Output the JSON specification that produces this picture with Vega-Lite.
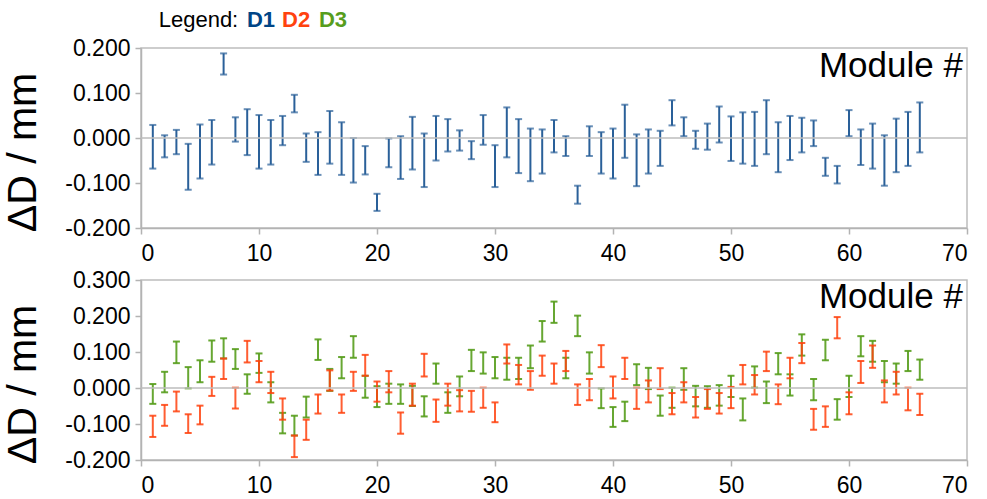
{
  "$schema": "https://vega.github.io/schema/vega-lite/v6.json",
  "background": "white",
  "padding": {"left": 2, "top": 8, "right": 0, "bottom": 0},
  "spacing": 52,
  "bounds": "flush",
  "config": {
    "font": "Liberation Sans",
    "view": {"stroke": "#bdbdbd", "strokeWidth": 1.5},
    "axis": {
      "labelFont": "Liberation Sans",
      "labelFontSize": 23,
      "labelColor": "#000000",
      "labelOverlap": false,
      "tickColor": "#b3b3b3",
      "tickSize": 6,
      "tickWidth": 1.5,
      "domainColor": "#b3b3b3",
      "domainWidth": 1.5,
      "grid": false,
      "titleFont": "Liberation Sans",
      "titleFontSize": 41,
      "titleFontWeight": "normal",
      "titleColor": "#000000"
    },
    "axisY": {"titlePadding": 20, "labelPadding": 5, "titleY": 104},
    "axisX": {"labelPadding": 8}
  },
  "datasets": {
    "dev": [
      {"m":1,"s":"D1","hi":0.029,"lo":-0.068},{"m":2,"s":"D1","hi":0.006,"lo":-0.043},
      {"m":3,"s":"D1","hi":0.018,"lo":-0.036},{"m":4,"s":"D1","hi":-0.013,"lo":-0.115},
      {"m":5,"s":"D1","hi":0.030,"lo":-0.090},{"m":6,"s":"D1","hi":0.040,"lo":-0.059},
      {"m":7,"s":"D1","hi":0.188,"lo":0.141},{"m":8,"s":"D1","hi":0.046,"lo":-0.008},
      {"m":9,"s":"D1","hi":0.064,"lo":-0.038},{"m":10,"s":"D1","hi":0.051,"lo":-0.068},
      {"m":11,"s":"D1","hi":0.040,"lo":-0.059},{"m":12,"s":"D1","hi":0.049,"lo":-0.016},
      {"m":13,"s":"D1","hi":0.096,"lo":0.057},{"m":14,"s":"D1","hi":0.010,"lo":-0.053},
      {"m":15,"s":"D1","hi":0.013,"lo":-0.082},{"m":16,"s":"D1","hi":0.060,"lo":-0.057},
      {"m":17,"s":"D1","hi":0.035,"lo":-0.082},{"m":18,"s":"D1","hi":0.000,"lo":-0.099},
      {"m":19,"s":"D1","hi":-0.018,"lo":-0.081},{"m":20,"s":"D1","hi":-0.124,"lo":-0.162},
      {"m":21,"s":"D1","hi":-0.001,"lo":-0.065},{"m":22,"s":"D1","hi":0.004,"lo":-0.091},
      {"m":23,"s":"D1","hi":0.047,"lo":-0.070},{"m":24,"s":"D1","hi":0.010,"lo":-0.109},
      {"m":25,"s":"D1","hi":0.049,"lo":-0.050},{"m":26,"s":"D1","hi":0.042,"lo":-0.030},
      {"m":27,"s":"D1","hi":0.017,"lo":-0.028},{"m":28,"s":"D1","hi":-0.007,"lo":-0.047},
      {"m":29,"s":"D1","hi":0.051,"lo":-0.015},{"m":30,"s":"D1","hi":-0.016,"lo":-0.109},
      {"m":31,"s":"D1","hi":0.068,"lo":-0.043},{"m":32,"s":"D1","hi":0.042,"lo":-0.078},
      {"m":33,"s":"D1","hi":0.021,"lo":-0.096},{"m":34,"s":"D1","hi":0.019,"lo":-0.079},
      {"m":35,"s":"D1","hi":0.040,"lo":-0.032},{"m":36,"s":"D1","hi":0.004,"lo":-0.040},
      {"m":37,"s":"D1","hi":-0.106,"lo":-0.146},{"m":38,"s":"D1","hi":0.026,"lo":-0.040},
      {"m":39,"s":"D1","hi":0.013,"lo":-0.079},{"m":40,"s":"D1","hi":0.021,"lo":-0.090},
      {"m":41,"s":"D1","hi":0.074,"lo":-0.044},{"m":42,"s":"D1","hi":0.008,"lo":-0.107},
      {"m":43,"s":"D1","hi":0.019,"lo":-0.079},{"m":44,"s":"D1","hi":0.016,"lo":-0.062},
      {"m":45,"s":"D1","hi":0.084,"lo":0.028},{"m":46,"s":"D1","hi":0.046,"lo":0.004},
      {"m":47,"s":"D1","hi":0.016,"lo":-0.024},{"m":48,"s":"D1","hi":0.032,"lo":-0.026},
      {"m":49,"s":"D1","hi":0.070,"lo":-0.010},{"m":50,"s":"D1","hi":0.048,"lo":-0.051},
      {"m":51,"s":"D1","hi":0.057,"lo":-0.057},{"m":52,"s":"D1","hi":0.058,"lo":-0.062},
      {"m":53,"s":"D1","hi":0.084,"lo":-0.036},{"m":54,"s":"D1","hi":0.035,"lo":-0.076},
      {"m":55,"s":"D1","hi":0.049,"lo":-0.049},{"m":56,"s":"D1","hi":0.045,"lo":-0.032},
      {"m":57,"s":"D1","hi":0.039,"lo":-0.018},{"m":58,"s":"D1","hi":-0.044,"lo":-0.084},
      {"m":59,"s":"D1","hi":-0.062,"lo":-0.101},{"m":60,"s":"D1","hi":0.062,"lo":0.004},
      {"m":61,"s":"D1","hi":0.019,"lo":-0.060},{"m":62,"s":"D1","hi":0.032,"lo":-0.068},
      {"m":63,"s":"D1","hi":0.006,"lo":-0.106},{"m":64,"s":"D1","hi":0.043,"lo":-0.076},
      {"m":65,"s":"D1","hi":0.058,"lo":-0.062},{"m":66,"s":"D1","hi":0.079,"lo":-0.032},

      {"m":1,"s":"D3","hi":0.011,"lo":-0.044},{"m":1,"s":"D2","hi":-0.077,"lo":-0.136},
      {"m":2,"s":"D3","hi":0.045,"lo":-0.012},{"m":2,"s":"D2","hi":-0.047,"lo":-0.105},
      {"m":3,"s":"D3","hi":0.129,"lo":0.069},{"m":3,"s":"D2","hi":-0.010,"lo":-0.065},
      {"m":4,"s":"D3","hi":0.058,"lo":-0.001},{"m":4,"s":"D2","hi":-0.073,"lo":-0.125},
      {"m":5,"s":"D3","hi":0.077,"lo":0.016},{"m":5,"s":"D2","hi":-0.049,"lo":-0.101},
      {"m":6,"s":"D3","hi":0.132,"lo":0.073},{"m":6,"s":"D2","hi":0.031,"lo":-0.022},
      {"m":7,"s":"D3","hi":0.138,"lo":0.082},{"m":7,"s":"D2","hi":0.082,"lo":0.025},
      {"m":8,"s":"D3","hi":0.108,"lo":0.053},{"m":8,"s":"D2","hi":0.001,"lo":-0.057},
      {"m":9,"s":"D3","hi":0.038,"lo":-0.016},{"m":9,"s":"D2","hi":0.131,"lo":0.071},
      {"m":10,"s":"D3","hi":0.096,"lo":0.042},{"m":10,"s":"D2","hi":0.075,"lo":0.016},
      {"m":11,"s":"D3","hi":0.016,"lo":-0.040},{"m":11,"s":"D2","hi":0.045,"lo":-0.014},
      {"m":12,"s":"D3","hi":-0.069,"lo":-0.126},{"m":12,"s":"D2","hi":-0.029,"lo":-0.088},
      {"m":13,"s":"D3","hi":-0.077,"lo":-0.132},{"m":13,"s":"D2","hi":-0.132,"lo":-0.192},
      {"m":14,"s":"D3","hi":-0.024,"lo":-0.082},{"m":14,"s":"D2","hi":-0.088,"lo":-0.144},
      {"m":15,"s":"D3","hi":0.135,"lo":0.078},{"m":15,"s":"D2","hi":-0.018,"lo":-0.071},
      {"m":16,"s":"D3","hi":0.053,"lo":-0.008},{"m":16,"s":"D2","hi":0.049,"lo":-0.007},
      {"m":17,"s":"D3","hi":0.086,"lo":0.027},{"m":17,"s":"D2","hi":-0.018,"lo":-0.069},
      {"m":18,"s":"D3","hi":0.144,"lo":0.084},{"m":18,"s":"D2","hi":0.045,"lo":-0.008},
      {"m":19,"s":"D3","hi":0.034,"lo":-0.027},{"m":19,"s":"D2","hi":0.092,"lo":0.034},
      {"m":20,"s":"D3","hi":0.005,"lo":-0.053},{"m":20,"s":"D2","hi":0.018,"lo":-0.038},
      {"m":21,"s":"D3","hi":0.012,"lo":-0.044},{"m":21,"s":"D2","hi":0.047,"lo":-0.012},
      {"m":22,"s":"D3","hi":0.010,"lo":-0.044},{"m":22,"s":"D2","hi":-0.068,"lo":-0.127},
      {"m":23,"s":"D3","hi":0.006,"lo":-0.050},{"m":23,"s":"D2","hi":0.012,"lo":-0.049},
      {"m":24,"s":"D3","hi":-0.023,"lo":-0.079},{"m":24,"s":"D2","hi":0.095,"lo":0.032},
      {"m":25,"s":"D3","hi":0.068,"lo":0.012},{"m":25,"s":"D2","hi":-0.032,"lo":-0.094},
      {"m":26,"s":"D3","hi":-0.012,"lo":-0.069},{"m":26,"s":"D2","hi":0.012,"lo":-0.049},
      {"m":27,"s":"D3","hi":0.032,"lo":-0.023},{"m":27,"s":"D2","hi":-0.006,"lo":-0.065},
      {"m":28,"s":"D3","hi":0.106,"lo":0.047},{"m":28,"s":"D2","hi":-0.008,"lo":-0.066},
      {"m":29,"s":"D3","hi":0.099,"lo":0.040},{"m":29,"s":"D2","hi":0.001,"lo":-0.055},
      {"m":30,"s":"D3","hi":0.086,"lo":0.027},{"m":30,"s":"D2","hi":-0.040,"lo":-0.095},
      {"m":31,"s":"D3","hi":0.084,"lo":0.023},{"m":31,"s":"D2","hi":0.121,"lo":0.068},
      {"m":32,"s":"D3","hi":0.084,"lo":0.025},{"m":32,"s":"D2","hi":0.064,"lo":0.010},
      {"m":33,"s":"D3","hi":0.118,"lo":0.055},{"m":33,"s":"D2","hi":0.047,"lo":-0.005},
      {"m":34,"s":"D3","hi":0.186,"lo":0.129},{"m":34,"s":"D2","hi":0.090,"lo":0.034},
      {"m":35,"s":"D3","hi":0.240,"lo":0.181},{"m":35,"s":"D2","hi":0.068,"lo":0.012},
      {"m":36,"s":"D3","hi":0.084,"lo":0.027},{"m":36,"s":"D2","hi":0.103,"lo":0.047},
      {"m":37,"s":"D3","hi":0.201,"lo":0.144},{"m":37,"s":"D2","hi":0.010,"lo":-0.047},
      {"m":38,"s":"D3","hi":0.099,"lo":0.040},{"m":38,"s":"D2","hi":0.025,"lo":-0.034},
      {"m":39,"s":"D3","hi":-0.001,"lo":-0.056},{"m":39,"s":"D2","hi":0.119,"lo":0.058},
      {"m":40,"s":"D3","hi":-0.053,"lo":-0.108},{"m":40,"s":"D2","hi":0.032,"lo":-0.029},
      {"m":41,"s":"D3","hi":-0.038,"lo":-0.092},{"m":41,"s":"D2","hi":0.084,"lo":0.025},
      {"m":42,"s":"D3","hi":0.066,"lo":0.008},{"m":42,"s":"D2","hi":0.001,"lo":-0.058},
      {"m":43,"s":"D3","hi":0.056,"lo":-0.003},{"m":43,"s":"D2","hi":0.021,"lo":-0.040},
      {"m":44,"s":"D3","hi":-0.021,"lo":-0.077},{"m":44,"s":"D2","hi":0.055,"lo":-0.003},
      {"m":45,"s":"D3","hi":0.001,"lo":-0.055},{"m":45,"s":"D2","hi":-0.014,"lo":-0.073},
      {"m":46,"s":"D3","hi":0.055,"lo":-0.005},{"m":46,"s":"D2","hi":0.016,"lo":-0.040},
      {"m":47,"s":"D3","hi":0.006,"lo":-0.051},{"m":47,"s":"D2","hi":-0.025,"lo":-0.082},
      {"m":48,"s":"D3","hi":0.005,"lo":-0.055},{"m":48,"s":"D2","hi":-0.003,"lo":-0.058},
      {"m":49,"s":"D3","hi":0.008,"lo":-0.049},{"m":49,"s":"D2","hi":-0.014,"lo":-0.071},
      {"m":50,"s":"D3","hi":0.034,"lo":-0.025},{"m":50,"s":"D2","hi":0.003,"lo":-0.056},
      {"m":51,"s":"D3","hi":-0.029,"lo":-0.090},{"m":51,"s":"D2","hi":0.064,"lo":0.010},
      {"m":52,"s":"D3","hi":0.060,"lo":0.001},{"m":52,"s":"D2","hi":0.036,"lo":-0.018},
      {"m":53,"s":"D3","hi":0.018,"lo":-0.042},{"m":53,"s":"D2","hi":0.101,"lo":0.047},
      {"m":54,"s":"D3","hi":0.097,"lo":0.038},{"m":54,"s":"D2","hi":0.010,"lo":-0.045},
      {"m":55,"s":"D3","hi":0.038,"lo":-0.021},{"m":55,"s":"D2","hi":0.084,"lo":0.027},
      {"m":56,"s":"D3","hi":0.149,"lo":0.090},{"m":56,"s":"D2","hi":0.125,"lo":0.069},
      {"m":57,"s":"D3","hi":0.025,"lo":-0.034},{"m":57,"s":"D2","hi":-0.058,"lo":-0.116},
      {"m":58,"s":"D3","hi":0.134,"lo":0.077},{"m":58,"s":"D2","hi":-0.051,"lo":-0.108},
      {"m":59,"s":"D3","hi":-0.031,"lo":-0.088},{"m":59,"s":"D2","hi":0.197,"lo":0.138},
      {"m":60,"s":"D3","hi":0.034,"lo":-0.025},{"m":60,"s":"D2","hi":-0.012,"lo":-0.073},
      {"m":61,"s":"D3","hi":0.144,"lo":0.088},{"m":61,"s":"D2","hi":0.075,"lo":0.014},
      {"m":62,"s":"D3","hi":0.131,"lo":0.073},{"m":62,"s":"D2","hi":0.118,"lo":0.056},
      {"m":63,"s":"D3","hi":0.075,"lo":0.016},{"m":63,"s":"D2","hi":0.021,"lo":-0.040},
      {"m":64,"s":"D3","hi":0.068,"lo":0.012},{"m":64,"s":"D2","hi":0.045,"lo":-0.018},
      {"m":65,"s":"D3","hi":0.103,"lo":0.047},{"m":65,"s":"D2","hi":0.001,"lo":-0.062},
      {"m":66,"s":"D3","hi":0.079,"lo":0.023},{"m":66,"s":"D2","hi":-0.016,"lo":-0.075}
    ]
  },
  "vconcat": [
    {
      "width": 826,
      "height": 180,
      "layer": [
        {
          "data": {"name": "dev"},
          "transform": [{"filter": "datum.s === 'D1'"}],
          "layer": [
            {
              "mark": {"type": "rule", "color": "#2a6099", "strokeWidth": 2},
              "encoding": {
                "x": {"field": "m", "type": "quantitative", "title": null,
                      "scale": {"domain": [0, 70], "nice": false},
                      "axis": {"values": [0, 10, 20, 30, 40, 50, 60, 70], "title": null, "labelOverlap": false}},
                "y": {"field": "hi", "type": "quantitative", "title": "ΔD / mm",
                      "scale": {"domain": [-0.2, 0.2], "nice": false, "zero": false},
                      "axis": {"values": [-0.2, -0.1, 0, 0.1, 0.2], "title": "ΔD / mm", "labelOverlap": false,
                               "labelExpr": "replace(format(datum.value, '.3f'), '\u2212', '-')"}},
                "y2": {"field": "lo"}
              }
            },
            {
              "mark": {"type": "tick", "orient": "horizontal", "size": 7, "thickness": 2, "color": "#2a6099"},
              "encoding": {
                "x": {"field": "m", "type": "quantitative", "title": null},
                "y": {"field": "hi", "type": "quantitative", "title": "ΔD / mm"}
              }
            },
            {
              "mark": {"type": "tick", "orient": "horizontal", "size": 7, "thickness": 2, "color": "#2a6099"},
              "encoding": {
                "x": {"field": "m", "type": "quantitative", "title": null},
                "y": {"field": "lo", "type": "quantitative", "title": "ΔD / mm"}
              }
            }
          ]
        },
        {
          "data": {"values": [{}]},
          "mark": {"type": "rule", "color": "#bdbdbd", "strokeWidth": 1.5},
          "encoding": {"y": {"datum": 0, "type": "quantitative"}}
        },
        {
          "data": {"values": [{"t": "Module #"}]},
          "mark": {"type": "text", "align": "right", "baseline": "alphabetic", "fontSize": 35, "color": "#000000"},
          "encoding": {
            "x": {"datum": 69.65, "type": "quantitative"},
            "y": {"datum": 0.1356, "type": "quantitative"},
            "text": {"field": "t"}
          }
        },
        {
          "data": {"values": [{"t": "Legend:"}]},
          "mark": {"type": "text", "align": "left", "baseline": "alphabetic", "fontSize": 22, "color": "#000000"},
          "encoding": {
            "x": {"datum": 1.5, "type": "quantitative"},
            "y": {"datum": 0.2467, "type": "quantitative"},
            "text": {"field": "t"}
          }
        },
        {
          "data": {"values": [{"t": "D1"}]},
          "mark": {"type": "text", "align": "left", "baseline": "alphabetic", "fontSize": 22, "fontWeight": "bold", "color": "#004586"},
          "encoding": {
            "x": {"datum": 8.98, "type": "quantitative"},
            "y": {"datum": 0.2467, "type": "quantitative"},
            "text": {"field": "t"}
          }
        },
        {
          "data": {"values": [{"t": "D2"}]},
          "mark": {"type": "text", "align": "left", "baseline": "alphabetic", "fontSize": 22, "fontWeight": "bold", "color": "#ff420e"},
          "encoding": {
            "x": {"datum": 11.95, "type": "quantitative"},
            "y": {"datum": 0.2467, "type": "quantitative"},
            "text": {"field": "t"}
          }
        },
        {
          "data": {"values": [{"t": "D3"}]},
          "mark": {"type": "text", "align": "left", "baseline": "alphabetic", "fontSize": 22, "fontWeight": "bold", "color": "#579d1c"},
          "encoding": {
            "x": {"datum": 15.08, "type": "quantitative"},
            "y": {"datum": 0.2467, "type": "quantitative"},
            "text": {"field": "t"}
          }
        }
      ]
    },
    {
      "width": 826,
      "height": 180,
      "encoding": {
        "y": {"type": "quantitative", "title": "ΔD / mm",
              "scale": {"domain": [-0.2, 0.3], "nice": false, "zero": false},
              "axis": {"values": [-0.2, -0.1, 0, 0.1, 0.2, 0.3], "title": "ΔD / mm", "labelOverlap": false,
                       "labelExpr": "replace(format(datum.value, '.3f'), '\u2212', '-')"}}
      },
      "layer": [
        {
          "data": {"name": "dev"},
          "transform": [{"filter": "datum.s === 'D3'"}],
          "layer": [
            {
              "mark": {"type": "rule", "color": "#579d1c", "strokeWidth": 2, "opacity": 0.9},
              "encoding": {
                "x": {"field": "m", "type": "quantitative", "title": null,
                      "scale": {"domain": [0, 70], "nice": false},
                      "axis": {"values": [0, 10, 20, 30, 40, 50, 60, 70], "title": null, "labelOverlap": false}},
                "y": {"field": "hi"},
                "y2": {"field": "lo"}
              }
            },
            {
              "mark": {"type": "tick", "orient": "horizontal", "size": 7, "thickness": 2, "color": "#579d1c", "opacity": 0.9},
              "encoding": {
                "x": {"field": "m", "type": "quantitative", "title": null},
                "y": {"field": "hi"}
              }
            },
            {
              "mark": {"type": "tick", "orient": "horizontal", "size": 7, "thickness": 2, "color": "#579d1c", "opacity": 0.9},
              "encoding": {
                "x": {"field": "m", "type": "quantitative", "title": null},
                "y": {"field": "lo"}
              }
            }
          ]
        },
        {
          "data": {"name": "dev"},
          "transform": [{"filter": "datum.s === 'D2'"}],
          "layer": [
            {
              "mark": {"type": "rule", "color": "#ff420e", "strokeWidth": 2, "opacity": 0.85},
              "encoding": {
                "x": {"field": "m", "type": "quantitative", "title": null},
                "y": {"field": "hi"},
                "y2": {"field": "lo"}
              }
            },
            {
              "mark": {"type": "tick", "orient": "horizontal", "size": 7, "thickness": 2, "color": "#ff420e", "opacity": 0.85},
              "encoding": {
                "x": {"field": "m", "type": "quantitative", "title": null},
                "y": {"field": "hi"}
              }
            },
            {
              "mark": {"type": "tick", "orient": "horizontal", "size": 7, "thickness": 2, "color": "#ff420e", "opacity": 0.85},
              "encoding": {
                "x": {"field": "m", "type": "quantitative", "title": null},
                "y": {"field": "lo"}
              }
            }
          ]
        },
        {
          "data": {"values": [{}]},
          "mark": {"type": "rule", "color": "#bdbdbd", "strokeWidth": 1.5},
          "encoding": {"y": {"datum": 0, "type": "quantitative"}}
        },
        {
          "data": {"values": [{"t": "Module #"}]},
          "mark": {"type": "text", "align": "right", "baseline": "alphabetic", "fontSize": 35, "color": "#000000"},
          "encoding": {
            "x": {"datum": 69.65, "type": "quantitative"},
            "y": {"datum": 0.2222, "type": "quantitative"},
            "text": {"field": "t"}
          }
        }
      ]
    }
  ]
}
